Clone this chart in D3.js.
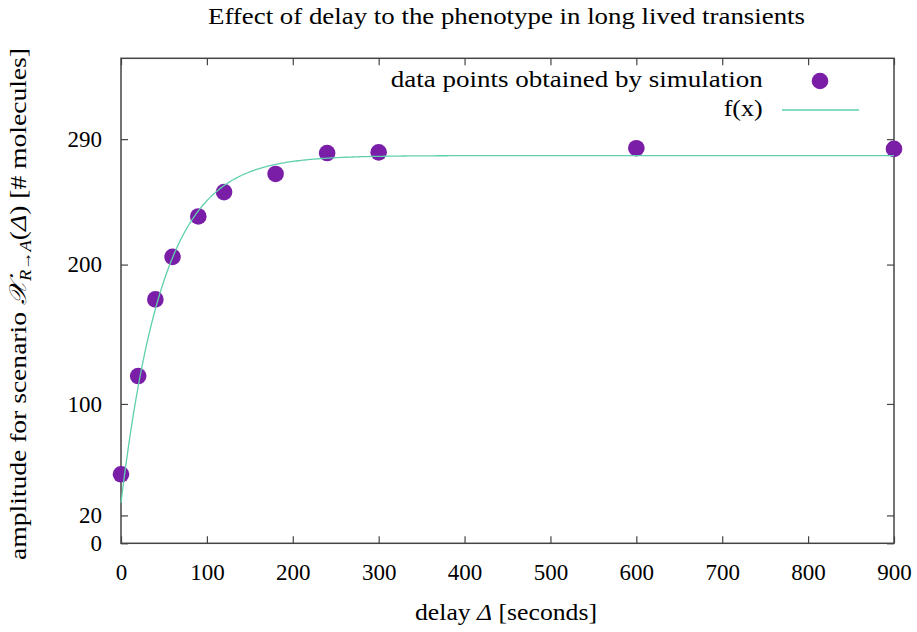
<!DOCTYPE html>
<html>
<head>
<meta charset="utf-8">
<script src="https://cdn.jsdelivr.net/npm/d3@7"></script>
<style>
  body { margin: 0; background: #fff; }
  svg text { font-family: "Liberation Serif", "DejaVu Serif", serif; fill: #000; }
</style>
</head>
<body>
<svg width="917" height="632"></svg>
<script>
// data
const delays = [0, 20, 40, 60, 90, 120, 180, 240, 300, 600, 900]
const amplitudes = [49.5, 120, 175, 205.5, 234.5, 252, 265, 280, 280.5, 283.5, 283]
const xTicks = [0, 100, 200, 300, 400, 500, 600, 700, 800, 900]
const yTicks = [0, 20, 100, 200, 290]

// fitted curve f(x) = plateau - (plateau - start) * exp(-x / tau)
const fitPlateau = 278.2
const fitStart = 29
const fitTau = 49

const width = 917
const height = 632
const marge = {top: 58.3, bottom: 88.7, left: 121, right: 23}
const fontSize = 23
const labelSize = 24

const svg = d3.select('svg')

const x = d3.scaleLinear().domain([0, 900]).range([marge.left, width - marge.right])
const y = d3.scaleLinear().domain([0, 348]).range([height - marge.bottom, marge.top])

const axisColor = '#444'

// 坐标轴 ticks point inward, mirrored on top / right
const gx = svg.append('g').attr('transform', `translate(0,${y(0)})`)
    .call(d3.axisBottom(x).tickValues(xTicks).tickSize(-7).tickPadding(20.4))
const gxt = svg.append('g').attr('transform', `translate(0,${y(348)})`)
    .call(d3.axisTop(x).tickValues(xTicks).tickSize(-7).tickFormat(''))
const gy = svg.append('g').attr('transform', `translate(${x(0)},0)`)
    .call(d3.axisLeft(y).tickValues(yTicks).tickSize(-7).tickPadding(19))
const gyr = svg.append('g').attr('transform', `translate(${x(900)},0)`)
    .call(d3.axisRight(y).tickValues(yTicks).tickSize(-7).tickFormat(''))

;[gx, gxt, gy, gyr].forEach(function (g) {
    g.select('.domain').remove()
    g.selectAll('line').attr('stroke', axisColor).attr('stroke-width', 1.2)
    g.selectAll('text').attr('font-size', fontSize).attr('font-family', null)
})

svg.append('rect')
    .attr('x', x(0)).attr('y', y(348))
    .attr('width', x(900) - x(0)).attr('height', y(0) - y(348))
    .attr('fill', 'none').attr('stroke', axisColor).attr('stroke-width', 1.5)

// 曲线
const curveX = d3.range(0, 900.5, 2)
const line = d3.line()
    .x(function (d) { return x(d) })
    .y(function (d) { return y(fitPlateau - (fitPlateau - fitStart) * Math.exp(-d / fitTau)) })

const pointColor = '#7a1ea8'
const curveColor = '#5fcfae'

svg.append('g').selectAll('circle').data(delays).enter().append('circle')
    .attr('cx', function (d) { return x(d) })
    .attr('cy', function (d, i) { return y(amplitudes[i]) })
    .attr('r', 8.3)
    .attr('fill', pointColor)

svg.append('path').datum(curveX).attr('d', line)
    .attr('fill', 'none').attr('stroke', curveColor).attr('stroke-width', 1.3)

// the reference uses a wider serif face, so stretch labels to its widths
function stretch(sel, len) {
    return sel.attr('textLength', len).attr('lengthAdjust', 'spacingAndGlyphs')
}

// legend
stretch(svg.append('text').attr('x', 762.7).attr('y', 87).attr('text-anchor', 'end')
    .attr('font-size', labelSize).text('data points obtained by simulation'), 372)
svg.append('circle').attr('cx', 820).attr('cy', 81).attr('r', 8.3).attr('fill', pointColor)
stretch(svg.append('text').attr('x', 762.7).attr('y', 116).attr('text-anchor', 'end')
    .attr('font-size', labelSize).text('f(x)'), 39)
svg.append('line').attr('x1', 782).attr('x2', 859).attr('y1', 110).attr('y2', 110)
    .attr('stroke', curveColor).attr('stroke-width', 1.3)

// title
stretch(svg.append('text').attr('x', 506.5).attr('y', 24).attr('text-anchor', 'middle')
    .attr('font-size', labelSize).text('Effect of delay to the phenotype in long lived transients'), 597)

// x label
const xl = stretch(svg.append('text').attr('x', 506).attr('y', 620).attr('text-anchor', 'middle')
    .attr('font-size', labelSize), 182)
xl.append('tspan').text('delay ')
xl.append('tspan').attr('font-style', 'italic').text('Δ')
xl.append('tspan').text(' [seconds]')

// y label
const yl = stretch(svg.append('text').attr('transform', 'translate(26,304) rotate(-90)')
    .attr('text-anchor', 'middle').attr('font-size', labelSize), 512)
yl.append('tspan').text('amplitude for scenario ')
yl.append('tspan').attr('font-style', 'italic').attr('font-family', '"DejaVu Serif", serif').text('𝒳')
yl.append('tspan').attr('font-style', 'italic').attr('font-size', 16).attr('dy', 5).text('R→A')
yl.append('tspan').attr('dy', -5).text('(')
yl.append('tspan').attr('font-style', 'italic').text('Δ')
yl.append('tspan').text(') [# molecules]')
</script>
</body>
</html>
